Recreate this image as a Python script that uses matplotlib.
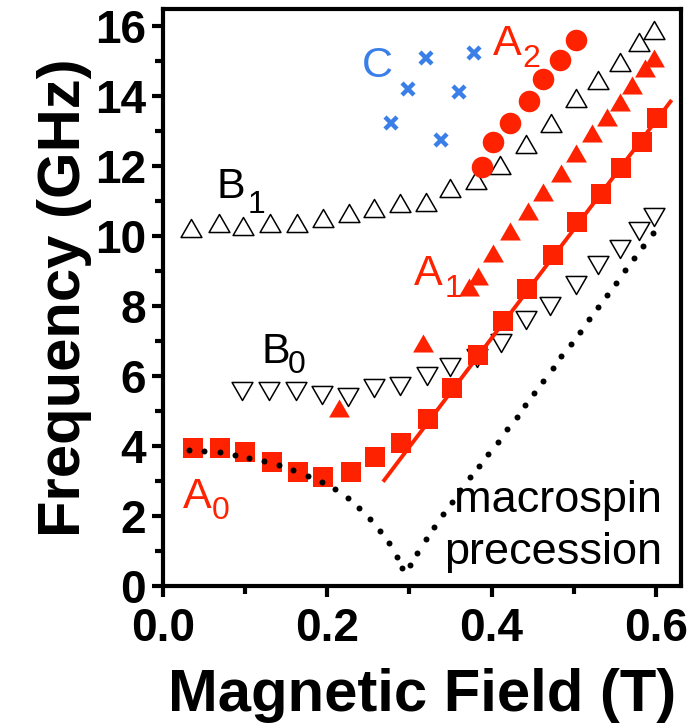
import matplotlib
matplotlib.use("Agg")
import matplotlib.pyplot as plt
from matplotlib.path import Path
from matplotlib.ticker import MultipleLocator

plt.rcParams['font.family'] = ['Liberation Sans', 'DejaVu Sans']

RED = '#ff2200'
BLUE = '#3a7fe8'

# mode B1 (open up triangles)
b1_field = [0.035, 0.068, 0.098, 0.130, 0.163, 0.195, 0.227, 0.257, 0.289, 0.320,
            0.350, 0.381, 0.410, 0.442, 0.472, 0.503, 0.530, 0.556, 0.579, 0.597]
b1_freq = [10.23, 10.39, 10.29, 10.39, 10.37, 10.51, 10.65, 10.80, 10.94, 10.98,
           11.37, 11.62, 12.03, 12.63, 13.24, 13.94, 14.46, 14.98, 15.55, 15.89]

# mode B0 (open down triangles)
b0_field = [0.097, 0.129, 0.162, 0.194, 0.225, 0.257, 0.289, 0.321, 0.350, 0.382,
            0.412, 0.442, 0.471, 0.503, 0.530, 0.556, 0.579, 0.597]
b0_freq = [5.59, 5.59, 5.59, 5.47, 5.42, 5.66, 5.71, 6.01, 6.27, 6.51,
           6.95, 7.60, 8.01, 8.61, 9.18, 9.65, 10.15, 10.56]

# mode A0 (squares)
a0_field = [0.037, 0.070, 0.100, 0.133, 0.165, 0.195, 0.229, 0.258, 0.290, 0.323,
            0.352, 0.383, 0.414, 0.443, 0.475, 0.504, 0.533, 0.558, 0.583, 0.601]
a0_freq = [3.95, 3.95, 3.85, 3.56, 3.28, 3.12, 3.28, 3.70, 4.11, 4.77,
           5.67, 6.60, 7.58, 8.48, 9.46, 10.40, 11.20, 11.94, 12.70, 13.37]

# linear fit through A0 high-field branch
fit_field = [0.268, 0.619]
fit_freq = [2.99, 13.89]

# mode A1 (filled triangles)
a1_field = [0.214, 0.317, 0.372, 0.384, 0.402, 0.422, 0.444, 0.463, 0.484, 0.503,
            0.522, 0.540, 0.556, 0.571, 0.587, 0.597]
a1_freq = [5.09, 6.94, 8.56, 8.86, 9.51, 10.15, 10.72, 11.27, 11.82, 12.37,
           12.94, 13.41, 13.84, 14.32, 14.79, 15.08]

# mode A2 (circles)
a2_field = [0.388, 0.402, 0.423, 0.445, 0.463, 0.483, 0.503]
a2_freq = [11.98, 12.70, 13.24, 13.86, 14.48, 15.03, 15.59]

# mode C (crosses)
c_field = [0.278, 0.298, 0.320, 0.338, 0.360, 0.379]
c_freq = [13.24, 14.20, 15.09, 12.75, 14.11, 15.22]

# macrospin precession curve (dotted)
ms_field = [0.0324, 0.0506, 0.0697, 0.088, 0.105, 0.1236, 0.1415, 0.159, 0.177, 0.194,
            0.210, 0.225, 0.239, 0.252, 0.264, 0.2757, 0.2847, 0.2907, 0.301, 0.3098,
            0.320, 0.330, 0.3406, 0.3516, 0.3617, 0.374, 0.385, 0.396, 0.4075, 0.419,
            0.4305, 0.441, 0.452, 0.463, 0.4745, 0.485, 0.4964, 0.5077, 0.518, 0.529,
            0.540, 0.551, 0.562, 0.5734, 0.584, 0.596]
ms_freq = [3.90, 3.88, 3.83, 3.75, 3.68, 3.58, 3.46, 3.33, 3.16, 2.99,
           2.79, 2.54, 2.23, 1.92, 1.59, 1.23, 0.85, 0.52, 0.61, 0.95,
           1.35, 1.69, 2.07, 2.42, 2.75, 3.13, 3.45, 3.79, 4.13, 4.50,
           4.84, 5.18, 5.53, 5.87, 6.23, 6.58, 6.92, 7.27, 7.63, 7.97,
           8.32, 8.67, 9.04, 9.39, 9.73, 10.08]

# equilateral triangles, closed so the outline is complete
tri_up = Path([(-1, -0.866), (1, -0.866), (0, 0.866), (-1, -0.866)], closed=True)
tri_down = Path([(-1, 0.866), (1, 0.866), (0, -0.866), (-1, 0.866)], closed=True)

fig = plt.figure(figsize=(6.94, 7.27), dpi=100)
ax = fig.add_axes([0.2344, 0.1933, 0.7464, 0.7939])

ax.plot(b1_field, b1_freq, ls='none', marker=tri_up, ms=15, mfc='white',
        mec='black', mew=1.1, zorder=2)
ax.plot(b0_field, b0_freq, ls='none', marker=tri_down, ms=15, mfc='white',
        mec='black', mew=1.1, zorder=2)
ax.plot(a0_field, a0_freq, ls='none', marker='s', ms=15, color=RED, mew=0, zorder=3)
ax.plot(fit_field, fit_freq, color=RED, lw=2.8, solid_capstyle='butt', zorder=3)
ax.plot(ms_field, ms_freq, ls='none', marker='o', ms=4.3, color='black', mew=0, zorder=4)
ax.plot(a1_field, a1_freq, ls='none', marker=tri_up, ms=15, color=RED, mew=0, zorder=3)
ax.plot(a2_field, a2_freq, ls='none', marker='o', ms=15.5, color=RED, mew=0, zorder=3)
ax.plot(c_field, c_freq, ls='none', marker='x', ms=9, color=BLUE, mew=3.2, zorder=3)

lab = 31
sub = 23
ax.text(0.242, 14.55, 'C', color=BLUE, fontsize=lab)
ax.text(0.402, 15.18, 'A', color=RED, fontsize=lab)
ax.text(0.438, 14.84, '2', color=RED, fontsize=sub)
ax.text(0.066, 11.10, 'B', color='black', fontsize=lab)
ax.text(0.103, 10.65, '1', color='black', fontsize=sub)
ax.text(0.120, 6.37, 'B', color='black', fontsize=lab)
ax.text(0.152, 6.09, '0', color='black', fontsize=sub)
ax.text(0.305, 8.61, 'A', color=RED, fontsize=lab)
ax.text(0.343, 8.27, '1', color=RED, fontsize=sub)
ax.text(0.025, 2.25, 'A', color=RED, fontsize=lab)
ax.text(0.060, 1.92, '0', color=RED, fontsize=sub)
ax.text(0.607, 2.12, 'macrospin', ha='right', fontsize=32.5)
ax.text(0.607, 0.64, 'precession', ha='right', fontsize=32.5)

ax.set_xlim(0, 0.63)
ax.set_ylim(0, 16.48)
ax.xaxis.set_major_locator(MultipleLocator(0.2))
ax.xaxis.set_minor_locator(MultipleLocator(0.1))
ax.yaxis.set_major_locator(MultipleLocator(2))
ax.yaxis.set_minor_locator(MultipleLocator(1))
ax.xaxis.set_major_formatter(plt.FuncFormatter(lambda v, p: f'{v:.1f}'))

for s in ax.spines.values():
    s.set_linewidth(3)
ax.tick_params(which='both', direction='out', width=3, top=False, right=False)
ax.tick_params(which='major', length=8, labelsize=33)
ax.tick_params(axis='x', which='major', pad=7)
ax.tick_params(axis='y', which='major', pad=4)
ax.tick_params(which='minor', length=6)
for t in ax.get_xticklabels() + ax.get_yticklabels():
    t.set_fontweight('bold')

ax.set_xlabel('Magnetic Field (T)', fontsize=43, fontweight='bold', labelpad=12)
ax.set_ylabel('Frequency (GHz)', fontsize=43, fontweight='bold', labelpad=2)

fig.savefig('out.png', dpi=100)
